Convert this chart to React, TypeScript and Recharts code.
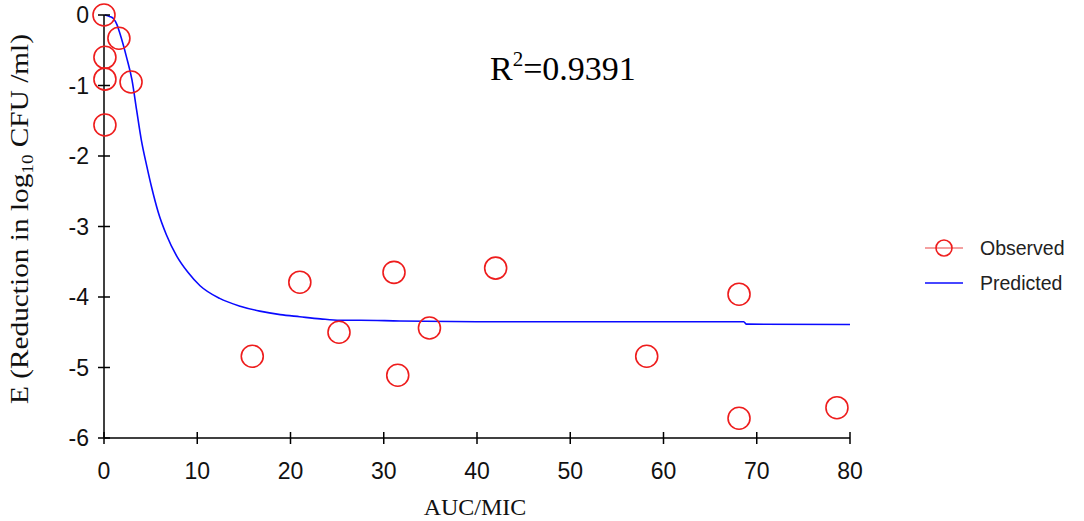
import React from "react";
import {
  ComposedChart,
  Scatter,
  Line,
  XAxis,
  YAxis,
  Legend,
} from "recharts";

// observed points (AUC/MIC, E)
const observedX = [0, 1.6, 0.1, 0.1, 2.9, 0.1, 15.9, 21.0, 25.2, 31.1, 31.5, 34.9, 42.0, 58.2, 68.1, 68.1, 78.6];
const observedY = [0, -0.33, -0.6, -0.91, -0.95, -1.56, -4.84, -3.79, -4.5, -3.65, -5.11, -4.44, -3.59, -4.84, -3.96, -5.72, -5.57];

// fitted curve
const predictedX = [0.1, 0.6, 1.0, 1.4, 1.7, 2.4, 3.0, 3.5, 4.0, 4.6, 5.1, 5.8, 6.7, 7.8, 9.0, 10.3, 12.4, 14.6, 16.7, 18.9, 21, 23.2, 25.3, 27.5, 31.7, 40, 50, 60, 68.6, 68.9, 80];
const predictedY = [0, -0.02, -0.05, -0.14, -0.26, -0.59, -0.92, -1.35, -1.77, -2.15, -2.44, -2.79, -3.12, -3.42, -3.65, -3.84, -4.02, -4.13, -4.2, -4.25, -4.28, -4.31, -4.33, -4.33, -4.34, -4.35, -4.35, -4.35, -4.35, -4.385, -4.39];

const xTicks = [0, 10, 20, 30, 40, 50, 60, 70, 80];
const yTicks = [0, -1, -2, -3, -4, -5, -6];

const observed = observedX.map((x, i) => ({ x, y: observedY[i] }));
const predicted = predictedX.map((x, i) => ({ x, y: predictedY[i] }));

const RED = "#ee1c1c";
const BLUE = "#0a0aff";
const SANS = "'Liberation Sans', Arial, sans-serif";
const SERIF = "'Liberation Serif', 'Times New Roman', serif";

const XTick = (props: any) => {
  const { x, y, payload } = props;
  return (
    <g>
      <line x1={x} x2={x} y1={y - 6} y2={y + 6} stroke="#000" strokeWidth={1.5} />
      <text x={x} y={y + 41} textAnchor="middle" fontFamily={SANS} fontSize={23} fill="#111">
        {payload.value}
      </text>
    </g>
  );
};

const YTick = (props: any) => {
  const { x, y, payload } = props;
  return (
    <g>
      <line x1={x - 6} x2={x + 6} y1={y} y2={y} stroke="#000" strokeWidth={1.5} />
      <text x={x - 15} y={y + 8} textAnchor="end" fontFamily={SANS} fontSize={23} fill="#111">
        {payload.value}
      </text>
    </g>
  );
};

const Circle = (props: any) => {
  const { cx, cy } = props;
  return <circle cx={cx} cy={cy} r={11} fill="none" stroke={RED} strokeWidth={1.6} />;
};

const LegendBox = (props: any) => {
  const { payload } = props;
  return (
    <svg width={170} height={80}>
      {(payload || []).map((entry: any, i: number) => {
        const cy = 18 + i * 35;
        const isObs = entry.value === "Observed";
        return (
          <g key={entry.value}>
            <line x1={10} x2={48} y1={cy} y2={cy} stroke={isObs ? "#f08080" : BLUE} strokeWidth={1.6} />
            {isObs && <circle cx={29} cy={cy} r={8} fill="none" stroke={RED} strokeWidth={1.6} />}
            <text x={65} y={cy + 7} fontFamily={SANS} fontSize={19.5} fill="#222">
              {entry.value}
            </text>
          </g>
        );
      })}
    </svg>
  );
};

export default function App() {
  return (
    <div style={{ position: "absolute", left: 0, top: 0, width: 1084, height: 521, background: "#fff" }}>
      <ComposedChart width={1084} height={521} margin={{ top: 15, right: 234, bottom: 0, left: 0 }}>
        <XAxis
          type="number"
          dataKey="x"
          domain={[0, 80]}
          ticks={xTicks}
          height={83}
          tickSize={0}
          tickMargin={0}
          tickLine={false}
          axisLine={{ stroke: "#000", strokeWidth: 1.5 }}
          tick={<XTick />}
          interval={0}
        />
        <YAxis
          type="number"
          dataKey="y"
          domain={[-6, 0]}
          ticks={yTicks}
          width={104}
          tickSize={0}
          tickMargin={0}
          tickLine={false}
          axisLine={{ stroke: "#000", strokeWidth: 1.5 }}
          tick={<YTick />}
          interval={0}
        />
        <Legend
          layout="horizontal"
          verticalAlign="middle"
          align="center"
          content={<LegendBox />}
          wrapperStyle={{ position: "absolute", left: 915, top: 230, width: 170, height: 80 }}
        />
        <Scatter
          name="Observed"
          data={observed}
          shape={<Circle />}
          isAnimationActive={false}
        />
        <Line
          name="Predicted"
          data={predicted}
          dataKey="y"
          type="monotone"
          stroke={BLUE}
          strokeWidth={1.6}
          dot={false}
          activeDot={false}
          isAnimationActive={false}
        />
        <text x={490} y={80} fontFamily={SERIF} fontSize={34} fill="#000">
          R
          <tspan fontSize={21} dy={-14}>2</tspan>
          <tspan fontSize={34} dy={14}>=0.9391</tspan>
        </text>
        <text x={475} y={515} textAnchor="middle" fontFamily={SERIF} fontSize={24} fill="#111">
          AUC/MIC
        </text>
        <text
          x={28}
          y={219}
          textAnchor="middle"
          transform="rotate(-90, 28, 219)"
          fontFamily={SERIF}
          fontSize={26}
          fill="#111"
          textLength={370}
          lengthAdjust="spacingAndGlyphs"
        >
          E (Reduction in log
          <tspan fontSize={17} dy={5}>10</tspan>
          <tspan dy={-5}> CFU /ml)</tspan>
        </text>
      </ComposedChart>
    </div>
  );
}
